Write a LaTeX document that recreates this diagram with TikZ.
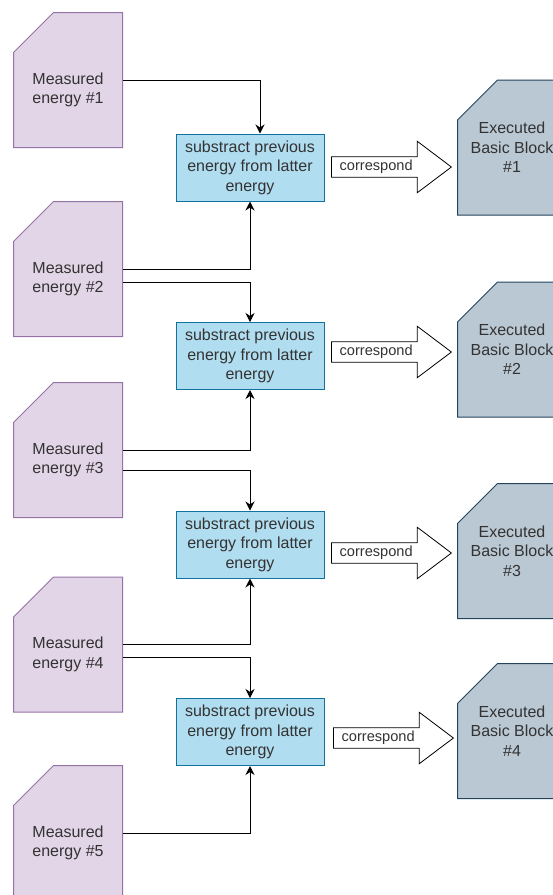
\documentclass[tikz,border=0pt]{standalone}
\usepackage{fontspec}
\setmainfont{Liberation Sans}
\usetikzlibrary{shapes.arrows}
\usetikzlibrary{arrows.meta}

\definecolor{mfill}{HTML}{E1D5E7}
\definecolor{mline}{HTML}{9673A6}
\definecolor{sfill}{HTML}{B1DDF0}
\definecolor{sline}{HTML}{10739E}
\definecolor{bfill}{HTML}{BAC8D3}
\definecolor{bline}{HTML}{23445D}
\definecolor{txt}{HTML}{333333}

\tikzset{card/.style 2 args={rectangle, minimum width=108pt, minimum height=134pt,
    append after command={\pgfextra{\filldraw[fill=#1,draw=#2,line width=1pt]
      (\tikzlastnode.south west) -- ([yshift=-40pt]\tikzlastnode.north west)
      -- ([xshift=40pt]\tikzlastnode.north west) -- (\tikzlastnode.north east)
      -- (\tikzlastnode.south east) -- cycle;}}}}
\tikzstyle{cardText} = [text=txt, align=center, font=\fontsize{16pt}{19.5pt}\selectfont]
\tikzstyle{subBox} = [rectangle, draw=sline, fill=sfill, line width=1pt, minimum width=148pt, minimum height=67pt, cardText]
\tikzstyle{corrArrow} = [single arrow, draw=black, fill=white, line width=0.8pt, anchor=tail, minimum height=120pt, single arrow head extend=15.5pt, single arrow tip angle=74, inner xsep=3pt, inner ysep=3pt, text width=90pt, align=left, text=txt, font=\fontsize{14.6pt}{17pt}\selectfont]

\begin{document}
\begin{tikzpicture}[x=1pt, y=-1pt, line width=1pt, >={Stealth[length=9pt,width=9pt]}]
	\useasboundingbox (0,0) rectangle (553,895);
	% measured energies
	\node[card={mfill}{mline}] (m1) at (68,80) {};
	\node[card={mfill}{mline}] (m2) at (68,269) {};
	\node[card={mfill}{mline}] (m3) at (68,450) {};
	\node[card={mfill}{mline}] (m4) at (68,644.5) {};
	\node[card={mfill}{mline}] (m5) at (68,833) {};
	\node[cardText] (t1) at ([yshift=-10pt]m1) {Measured\\energy \#1};
	\node[cardText] (t2) at ([yshift=-10pt]m2) {Measured\\energy \#2};
	\node[cardText] (t3) at ([yshift=-10pt]m3) {Measured\\energy \#3};
	\node[cardText] (t4) at ([yshift=-10pt]m4) {Measured\\energy \#4};
	\node[cardText] (t5) at ([yshift=-10pt]m5) {Measured\\energy \#5};
	
	% differences
	\node[subBox] (s1) at (250,167.5) {substract previous\\energy from latter\\energy};
	\node[subBox] (s2) at (250,356) {substract previous\\energy from latter\\energy};
	\node[subBox] (s3) at (250,544.5) {substract previous\\energy from latter\\energy};
	\node[subBox] (s4) at (250,732) {substract previous\\energy from latter\\energy};
	
	\draw[->] (m1.east) -| ([xshift=10pt]s1.north);
	\draw[->] (m2.east) -| (s1.south);
	\draw[->] ([yshift=-13pt]m2.east) -| (s2.north);
	\draw[->] (m3.east) -| (s2.south);
	\draw[->] ([yshift=-20pt]m3.east) -| (s3.north);
	\draw[->] (m4.east) -| (s3.south);
	\draw[->] ([yshift=-13pt]m4.east) -| (s4.north);
	\draw[->] (m5.east) -| (s4.south);
	
	% basic blocks
	\node[corrArrow] (a1) at (331,167) {correspond};
	\node[corrArrow] (a2) at (331,352) {correspond};
	\node[corrArrow] (a3) at (331,553) {correspond};
	\node[corrArrow] (a4) at (333,738) {correspond};
	\node[card={bfill}{bline}, cardText] (b1) at (512,147.5) {Executed\\Basic Block\\\#1};
	\node[card={bfill}{bline}, cardText] (b2) at (512,349.5) {Executed\\Basic Block\\\#2};
	\node[card={bfill}{bline}, cardText] (b3) at (512,551) {Executed\\Basic Block\\\#3};
	\node[card={bfill}{bline}, cardText] (b4) at (512,731) {Executed\\Basic Block\\\#4};
\end{tikzpicture}
\end{document}
